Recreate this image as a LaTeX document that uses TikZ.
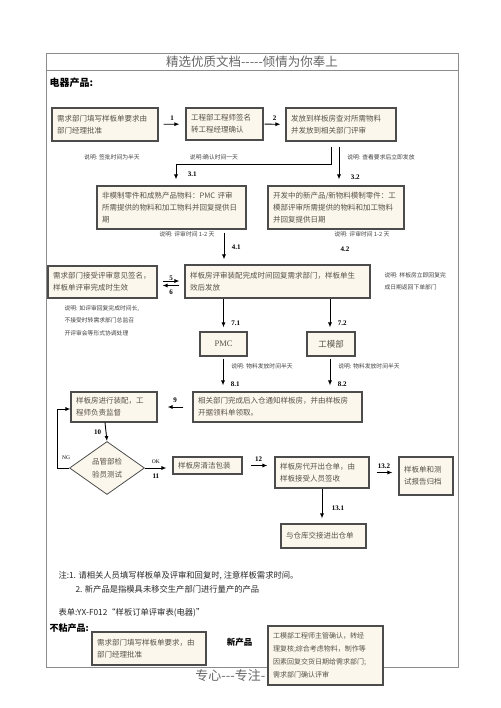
\documentclass[tikz,border=0pt]{standalone}
\usepackage{fontspec}
\setmainfont{Liberation Serif}
\newfontfamily\cjk{Noto Sans CJK SC}
\usetikzlibrary{shapes.geometric,arrows.meta}
\definecolor{paper}{HTML}{FBF7EC}
\definecolor{ink}{HTML}{5A524A}
\begin{document}
\begin{tikzpicture}[x=1pt,y=-1pt,
  box/.style={draw=black!70,line width=1.1pt,fill=paper,text=ink,align=left,
    inner xsep=5pt,inner ysep=2pt,font=\cjk\fontsize{7.5}{12}\selectfont},
  choice/.style={diamond,draw=black!70,line width=0.8pt,fill=paper,text=ink,
    align=center,inner sep=0pt,font=\cjk\fontsize{7.5}{13}\selectfont},
  arr/.style={-{Latex[length=5pt,width=4pt]},line width=0.9pt},
  step label/.style={font=\bfseries\fontsize{7}{8}\selectfont},
  remark/.style={text=black!75,font=\cjk\fontsize{5.8}{12}\selectfont,align=left},
  notes/.style={text=black!85,font=\cjk\fontsize{8.3}{12}\selectfont,anchor=west}]

  % Define the page and the frame
  \useasboundingbox (0,0) rectangle (500,708);
  \draw[black!45,line width=0.8pt] (46,53) rectangle (458,667);
  \draw[black!45,line width=0.8pt] (46,70) -- (458,70);

  % Title
  \node[text=black!60,font=\cjk\fontsize{12.5}{14}\selectfont] (title) at (252,62) {精选优质文档-----倾情为你奉上};
  \node[anchor=west,font=\cjk\bfseries\fontsize{10}{12}\selectfont] (elec) at (46,83) {电器产品:};

  % First row of boxes
  \node[box,text width=96pt,minimum height=33pt] (req) at (105,124.5) {需求部门填写样板单要求由\\部门经理批准};
  \node[box,text width=67pt,minimum height=32pt] (eng) at (224.5,124) {工程部工程师签名\\转工程经理确认};
  \node[box,text width=100pt,minimum height=33pt] (send) at (341,124.5) {发放到样板房查对所需物料\\并发放到相关部门评审};

  \draw[arr,shorten <=5pt,shorten >=6pt] (req) -- (eng) node[midway,above,step label] {1};
  \draw[arr,shorten <=1pt,shorten >=5pt] (eng) -- (send) node[midway,above,step label] {2};

  \node[remark] (r1) at (112,157) {说明: 签批时间为半天};
  \node[remark] (r2) at (214,157) {说明:确认时间一天};
  \node[remark] (r3) at (381,157) {说明: 查看要求后立即发放};

  % Second row: review boxes
  \node[box,text width=139pt,minimum height=43pt] (pmcrev) at (171.5,207.5) {非模制零件和成熟产品物料：PMC 评审\\所需提供的物料和加工物料并回复提供日\\期};
  \node[box,text width=126pt,minimum height=43pt] (toolrev) at (336,207.5) {开发中的新产品/新物料模制零件：工\\模部评审所需提供的物料和加工物料\\并回复提供日期};

  \coordinate (k1) at (331,164);
  \coordinate (k2) at (176,164);
  \draw[line width=0.9pt] ([xshift=-10pt,yshift=-5pt]send.south) -- ([xshift=-10pt]send.south |- k1) -- (k1) -- (k2);
  \draw[arr,shorten >=6pt] (k2) -- (k2 |- pmcrev.north) node[pos=0.5,right=8pt,step label] {3.1};
  \draw[arr,shorten <=5pt,shorten >=6pt] ([xshift=-2pt]send.south) -- ([xshift=-2pt]send.south |- toolrev.north) node[pos=0.82,right=8pt,step label] {3.2};

  \node[remark] (r4) at (187,234) {说明: 评审时间 1-2 天};
  \node[remark] (r5) at (362,234) {说明: 评审时间 1-2 天};

  % Third row: sample room review
  \node[box,text width=175pt,minimum height=33pt] (room) at (277.5,281.5) {样板房评审装配完成时间回复需求部门，样板单生\\效后发放};
  \node[box,text width=99pt,minimum height=32pt] (accept) at (102.5,282) {需求部门接受评审意见签名，\\样板单评审完成时生效};

  \draw[arr,shorten <=3pt,shorten >=5pt] ([xshift=52.5pt]pmcrev.south) -- ([xshift=52.5pt]pmcrev.south |- room.north) node[midway,right=4pt,step label] {4.1};
  \node[step label] (l42) at (345,249) {4.2};

  \draw[arr,shorten <=5pt,shorten >=5pt] ([yshift=-4pt]room.west) -- ([yshift=-4pt]accept.east |- room.west) node[midway,above=1pt,step label] {5};
  \draw[arr,shorten <=5pt,shorten >=5pt] ([yshift=1pt]accept.east) -- ([yshift=1pt]room.west |- accept.east) node[midway,below=5pt,step label] {6};

  \node[remark,anchor=west] (r6) at (381,281) {说明: 样板房立即回复完\\成日期返回下单部门};
  \node[remark,anchor=north west,font=\cjk\fontsize{5.8}{12.5}\selectfont] (r7) at (61,302) {说明: 如评审回复完成时间长,\\不接受时转需求部门总监召\\开评审会等形式协调处理};

  % Fourth row: PMC and tool department
  \node[box,text width=37pt,align=center,minimum height=24pt,font=\fontsize{8.5}{10}\selectfont] (pmc) at (223.5,344) {PMC};
  \node[box,text width=38pt,align=center,minimum height=24pt,font=\cjk\fontsize{8.5}{10}\selectfont] (tool) at (331,344) {工模部};

  \draw[arr,shorten >=4pt] (pmc.north |- room.south) -- (pmc.north) node[pos=0.75,right=4pt,step label] {7.1};
  \draw[arr,shorten >=4pt] ([xshift=-1pt]tool.north |- room.south) -- ([xshift=-1pt]tool.north) node[pos=0.75,right=4pt,step label] {7.2};

  \node[remark] (r8) at (262,366) {说明: 物料发放时间半天};
  \node[remark] (r9) at (369,366) {说明: 物料发放时间半天};

  % Fifth row: assembly
  \node[box,text width=159pt,minimum height=30pt] (notice) at (277.5,407) {相关部门完成后入仓通知样板房，并由样板房\\开据领料单领取。};
  \node[box,text width=76pt,minimum height=30pt] (assem) at (114,407) {样板房进行装配，工\\程师负责监督};

  \draw[arr,shorten <=2pt,shorten >=6pt] ([xshift=-0.5pt]pmc.south) -- ([xshift=-0.5pt]pmc.south |- notice.north) node[pos=0.8,right=4pt,step label] {8.1};
  \draw[arr,shorten <=2pt,shorten >=6pt] ([xshift=-1pt]tool.south) -- ([xshift=-1pt]tool.south |- notice.north) node[pos=0.8,right=4pt,step label] {8.2};
  \draw[arr,shorten <=9pt,shorten >=10pt] (notice.west) -- (assem.east) node[pos=0.5,above=1pt,step label] {9};

  % Quality test and the rest
  \node[choice,minimum width=75pt,minimum height=53pt] (test) at (107,468) {品管部检\\验员测试};
  \draw[arr] ([xshift=-9pt]assem.south) -- (test.north) node[midway,left=1pt,step label] {10};

  \coordinate (ng) at (57,468);
  \draw[line width=0.9pt] (test.west) -- (ng);
  \draw[arr] (ng) -- (57,409) -- (assem.west |- 0,409);
  \node[font=\fontsize{5.5}{6}\selectfont] (ngl) at (66,458) {NG};

  \node[box,text width=59pt,minimum height=17pt,inner ysep=1pt] (clean) at (207.5,465.5) {样板房清洁包装};
  \draw[arr,shorten >=6pt] (test.east) -- (test.east -| clean.west) node[pos=0.4,above=1pt,font=\fontsize{5.5}{6}\selectfont] {OK} node[pos=0.4,below=2pt,step label] {11};

  \node[box,text width=84pt,minimum height=31pt] (out) at (322,472.5) {样板房代开出仓单，由\\样板接受人员签收};
  \draw[arr,shorten <=8pt,shorten >=7pt] (clean.east) -- (clean.east -| out.west) node[midway,above,step label] {12};

  \node[box,text width=44pt,minimum height=38pt] (file) at (426,476) {样板单和测\\试报告归档};
  \draw[arr,shorten <=7pt,shorten >=6pt] (out.east) -- (out.east -| file.west) node[midway,above,step label] {13.2};

  \node[box,text width=75pt,minimum height=24pt] (ware) at (323.5,536) {与仓库交接进出仓单};
  \draw[arr,shorten >=5pt] (out.south) -- (out.south |- ware.north) node[pos=0.55,right=6pt,step label] {13.1};

  % Notes at the bottom
  \node[notes] (n1) at (55,576) {注:1. 请相关人员填写样板单及评审和回复时, 注意样板需求时间。};
  \node[notes] (n2) at (72,589) {2. 新产品是指模具未移交生产部门进行量产的产品};
  \node[notes] (n3) at (55,613) {表单:YX-F012“样板订单评审表(电器)”};
  \node[anchor=west,font=\cjk\bfseries\fontsize{9}{11}\selectfont] (stick) at (46,628) {不粘产品:};

  \node[text=black!60,font=\cjk\fontsize{13}{14}\selectfont,anchor=east] (foot) at (269,676) {专心---专注-};

  \node[box,text width=104pt,minimum height=33pt] (req2) at (149,648.5) {需求部门填写样板单要求，由\\部门经理批准};
  \node[font=\cjk\bfseries\fontsize{8.5}{10}\selectfont] (newp) at (239.5,642) {新产品};
  \node[box,text width=105pt,minimum height=59pt,font=\cjk\fontsize{7}{13}\selectfont] (tool2) at (325.5,655.5) {工模部工程师主管确认，转经\\理复核;综合考虑物料，制作等\\因素回复交货日期给需求部门;\\需求部门确认评审};

\end{tikzpicture}
\end{document}
